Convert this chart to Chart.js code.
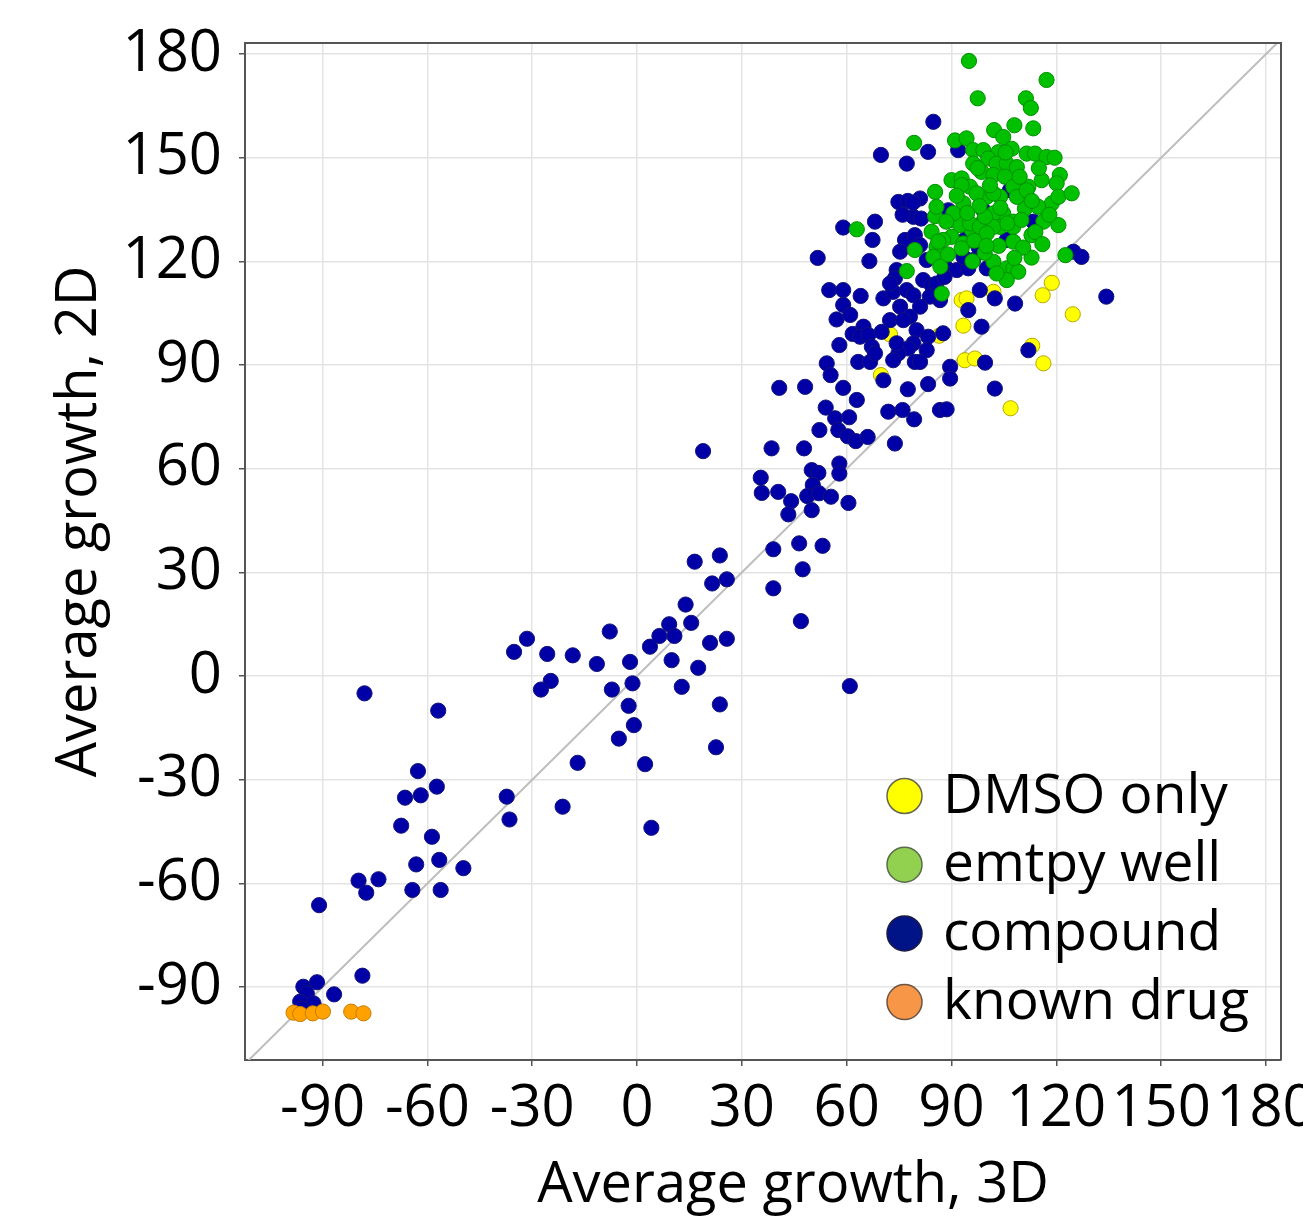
<!DOCTYPE html>
<html>
<head>
<meta charset="utf-8">
<script src="https://cdn.jsdelivr.net/npm/chart.js@4.4.1/dist/chart.umd.min.js"></script>
<style>
html,body{margin:0;padding:0;background:#ffffff;}
#wrap{width:1303px;height:1222px;position:relative;}
</style>
</head>
<body>
<div id="wrap"><canvas id="c" width="1303" height="1222"></canvas></div>
<script>
// ---------- data ----------
const tickValues = [-90, -60, -30, 0, 30, 60, 90, 120, 150, 180];
const seriesNames = ['DMSO only', 'emtpy well', 'compound', 'known drug'];
const xTitle = 'Average growth, 3D';
const yTitle = 'Average growth, 2D';

const dmsoX = [72.4, 69.8, 86.5, 92.9, 94.3, 93.4, 93.8, 96.7, 102.0, 118.7, 116.1, 124.7, 113.1, 116.3, 106.9];
const dmsoY = [98.9, 87.1, 98.5, 108.8, 109.3, 101.4, 91.4, 91.9, 111.2, 113.8, 110.2, 104.7, 95.6, 90.5, 77.5];

const emptyX = [95.0, 117.2, 97.5, 111.3, 112.7, 79.3, 102.2, 108.0, 113.4, 104.8, 91.0, 94.3, 96.2, 99.1, 103.4, 107.2, 111.5, 113.9, 117.2, 96.2,
  98.6, 100.5, 102.9, 105.8, 108.7, 102.0, 105.3, 90.0, 92.9, 95.3, 121.0, 120.1, 115.8, 112.0, 107.7, 118.7, 111.0, 108.7, 103.9, 100.1,
  97.2, 85.3, 104.8, 107.7, 103.9, 98.6, 95.8, 92.4, 90.0, 85.7, 87.6, 93.4, 62.9, 77.2, 87.2, 85.3, 85.7, 84.3, 86.2, 84.8,
  86.8, 79.5, 92.9, 93.4, 95.3, 92.9, 90.5, 102.0, 102.0, 102.0, 107.7, 107.7, 111.5, 114.8, 120.6, 124.4, 116.3, 120.6, 112.9, 112.9,
  102.0, 105.8, 107.7, 109.1, 105.8, 102.9, 122.6, 98.1, 100.1, 99.6,
  98.0, 101.0, 104.0, 106.0, 96.5, 99.5, 103.5, 110.0, 114.0, 110.5, 116.0, 118.0, 88.5, 91.5, 94.5, 97.5, 105.5, 109.5, 115.0, 119.5,
  89.0, 96.0, 100.0, 108.0, 113.0];
const emptyY = [178.0, 172.5, 167.2, 167.2, 164.4, 154.3, 158.0, 159.4, 158.5, 156.0, 155.0, 155.6, 152.2, 152.2, 151.6, 152.6, 151.2, 151.2, 150.2, 148.3,
  145.9, 149.8, 148.3, 148.3, 147.3, 145.0, 144.5, 143.5, 144.0, 141.6, 145.0, 142.6, 143.5, 141.6, 141.6, 136.8, 135.3, 138.7, 138.7, 138.7,
  139.7, 133.1, 133.9, 131.5, 130.0, 131.0, 129.1, 130.5, 127.1, 124.2, 126.2, 125.2, 129.3, 117.2, 110.7, 140.1, 135.8, 128.6, 125.7, 121.3,
  118.5, 123.3, 142.1, 136.8, 131.0, 123.8, 133.9, 139.7, 133.9, 130.0, 130.0, 125.7, 140.6, 135.8, 138.7, 139.7, 131.5, 130.5, 127.6, 121.1,
  119.9, 118.0, 118.0, 117.0, 114.6, 116.5, 121.8, 130.0, 128.1, 132.9,
  136.0, 142.0, 135.5, 131.0, 126.0, 122.5, 124.5, 132.0, 128.5, 124.0, 125.0, 133.5, 131.5, 139.0, 134.0, 147.0, 151.5, 144.5, 147.0, 150.0,
  122.0, 120.0, 124.5, 121.0, 137.5];

const compoundX = [
  -78.0, -56.9, -62.7, -57.3, -66.4, -61.9, -67.5, -58.7, -63.2, -56.6, -49.7, -64.3, -56.2, -79.7, -74.0, -77.5, -91.0, -78.6, -86.7, -95.5,
  -91.6, -94.5, -96.4, -92.6, -95.9,
  -35.2, -31.5, -25.7, -18.4, -24.7, -27.5, -11.5, -7.8, -2.0, -7.2, -1.3, -2.4, -0.9, -5.2, -17.0, 2.3, -37.3, -36.5, -21.3, 4.1,
  3.7, 6.4, 9.2, 10.7, 9.9, 12.8, 17.5, 15.5, 13.9, 20.9, 25.7, 23.7, 22.6, 16.5, 23.7, 21.5, 25.7, 39.0, 39.0,
  18.9, 60.9, 40.7, 48.1, 54.3, 55.4, 57.9, 59.0, 62.9, 54.0, 56.7, 60.7, 52.2, 57.6, 60.3, 62.6, 66.0, 73.8, 71.9, 76.0,
  79.3, 77.5, 83.3, 70.5, 38.5, 47.8, 35.4, 35.7, 40.4, 44.1, 43.3, 50.0, 51.9, 57.9, 57.9, 50.3, 48.7, 52.1, 55.5, 50.0,
  60.5, 46.4, 53.1, 47.4, 46.9, 86.7,
  51.7, 59.0, 68.1, 67.4, 66.5, 74.8, 77.5, 81.0, 79.1, 81.3, 76.7, 75.3, 79.5, 81.0, 82.9, 74.3, 73.8, 55.0, 59.0, 59.0,
  57.1, 61.0, 61.7, 64.8, 63.8, 66.2, 67.2, 70.0, 63.3, 66.7, 68.1, 70.5, 73.3, 72.4, 75.3, 77.2, 78.1, 79.1, 81.9, 84.3,
  85.7, 86.7, 83.8, 81.0, 72.4, 76.2, 80.0, 79.1, 83.3, 87.6, 82.9, 79.5, 77.6, 74.8, 73.3, 74.3, 81.0, 88.6, 91.5, 94.8,
  89.1, 93.4, 96.2, 100.1, 93.8, 97.7, 99.1, 106.7, 105.8, 113.4, 98.1, 102.4, 94.8, 98.6, 89.6, 89.6, 99.6, 102.4, 88.6, 108.2,
  112.0, 124.9, 127.2, 134.3, 84.8, 69.8, 77.2, 83.3, 91.9, 79.0, 89.1, 76.0, 64.0, 88.0];
const compoundY = [
  -5.0, -10.0, -27.5, -32.0, -35.2, -34.5, -43.3, -46.5, -54.5, -53.2, -55.6, -61.9, -61.9, -59.2, -58.8, -62.7, -66.3, -86.7, -92.1, -89.9,
  -88.6, -91.8, -94.2, -94.7, -96.2,
  7.0, 10.8, 6.4, 6.0, -1.4, -3.9, 3.5, 12.9, 4.1, -3.9, -2.1, -8.6, -14.2, -18.1, -25.1, -25.5, -34.9, -41.5, -37.8, -43.9,
  8.5, 11.6, 15.0, 11.6, 4.6, -3.1, 2.4, 15.4, 20.7, 9.6, 10.8, -8.2, -20.6, 33.1, 34.9, 26.8, 28.0, 36.7, 25.4,
  65.1, -2.9, 83.4, 83.7, 90.5, 87.1, 95.8, 83.4, 79.9, 77.7, 74.6, 74.9, 71.2, 71.2, 69.4, 68.0, 69.2, 67.3, 76.5, 77.0,
  74.3, 83.0, 84.5, 85.6, 65.9, 65.9, 57.4, 53.0, 53.3, 50.6, 46.8, 59.6, 58.8, 61.5, 58.6, 55.3, 52.1, 52.9, 51.9, 48.0,
  50.1, 38.4, 37.7, 30.9, 15.9, 77.0,
  121.0, 129.8, 131.5, 126.2, 120.1, 137.2, 137.5, 138.2, 132.9, 132.4, 126.2, 122.8, 127.6, 124.7, 120.4, 117.5, 115.1, 111.7, 111.7, 107.4,
  103.2, 104.5, 99.0, 101.1, 98.2, 98.7, 95.3, 99.6, 90.9, 90.9, 93.4, 109.3, 111.2, 113.6, 106.9, 111.7, 104.0, 110.2, 114.6, 113.1,
  113.6, 108.8, 109.8, 106.9, 103.0, 103.0, 100.1, 96.3, 98.2, 99.2, 94.3, 90.9, 94.8, 93.4, 91.4, 96.3, 90.9, 118.0, 117.5, 118.0,
  134.8, 121.3, 120.4, 118.0, 126.2, 124.2, 134.8, 140.6, 126.2, 131.5, 111.7, 109.3, 105.9, 101.1, 89.5, 86.1, 90.7, 83.2, 77.2, 107.8,
  94.3, 122.8, 121.3, 109.8, 160.4, 150.8, 148.3, 151.7, 152.2, 137.0, 131.9, 133.5, 110.0, 115.5];

const drugX = [-98.3, -96.4, -92.8, -89.9, -81.8, -78.3];
const drugY = [-97.4, -97.8, -97.6, -97.1, -97.1, -97.6];

const diagonalEnds = [-115, 190];

// ---------- helpers ----------
function pts(xs, ys) { return xs.map((x, i) => ({ x: x, y: ys[i] })); }

const FONT = "'Open Sans', 'DejaVu Sans', sans-serif";

const legendColors = [
  { fill: '#FFFF00', stroke: '#66664d' },
  { fill: '#92D050', stroke: '#5a6b4d' },
  { fill: '#001488', stroke: '#1c1c40' },
  { fill: '#F79646', stroke: '#6b5544' }
];

function shiftTitle(scale, dx, dy) {
  if (scale._titleShifted) return;
  const orig = Object.getPrototypeOf(scale).drawTitle;
  scale.drawTitle = function () {
    this.ctx.save();
    this.ctx.translate(dx, dy);
    orig.call(this);
    this.ctx.restore();
  };
  scale._titleShifted = true;
}

const frameAndLegend = {
  id: 'frameAndLegend',
  afterLayout(chart) {
    shiftTitle(chart.scales.y, 0, -30);
    shiftTitle(chart.scales.x, 30, 0);
  },
  afterDraw(chart) {
    const { ctx, chartArea: a } = chart;
    ctx.save();
    ctx.strokeStyle = '#555555';
    ctx.lineWidth = 2;
    ctx.beginPath();
    ctx.moveTo(a.left, a.top);
    ctx.lineTo(a.right, a.top);
    ctx.lineTo(a.right, a.bottom);
    ctx.stroke();
    // legend
    const cx = 904.5, r = 17.5, tx = 943;
    ctx.font = '55px ' + FONT;
    ctx.textBaseline = 'middle';
    ctx.textAlign = 'left';
    seriesNames.forEach((name, i) => {
      const cy = 796 + i * 68.7;
      ctx.beginPath();
      ctx.arc(cx, cy, r, 0, Math.PI * 2);
      ctx.fillStyle = legendColors[i].fill;
      ctx.fill();
      ctx.lineWidth = 1.5;
      ctx.strokeStyle = legendColors[i].stroke;
      ctx.stroke();
      ctx.fillStyle = '#000000';
      ctx.fillText(name, tx, cy + 1);
    });
    ctx.restore();
  }
};

const ptStyle = (fill, border) => ({
  backgroundColor: fill,
  borderColor: border,
  borderWidth: 1,
  pointRadius: 7.6,
  pointHoverRadius: 7.6
});

new Chart(document.getElementById('c'), {
  type: 'scatter',
  data: {
    datasets: [
      Object.assign({ label: seriesNames[3], data: pts(drugX, drugY) }, ptStyle('#FFA200', '#C77A00')),
      Object.assign({ label: seriesNames[1], data: pts(emptyX, emptyY) }, ptStyle('#00C000', '#008F00')),
      Object.assign({ label: seriesNames[2], data: pts(compoundX, compoundY) }, ptStyle('#0000A6', '#14147a')),
      Object.assign({ label: seriesNames[0], data: pts(dmsoX, dmsoY) }, ptStyle('#FFFF00', '#B5A800')),
      {
        label: 'y = x',
        type: 'line',
        data: diagonalEnds.map(v => ({ x: v, y: v })),
        borderColor: '#BDBDBD',
        borderWidth: 2,
        pointRadius: 0,
        showLine: true,
        fill: false
      }
    ]
  },
  plugins: [frameAndLegend],
  options: {
    responsive: false,
    animation: false,
    events: [],
    layout: { padding: { top: 43, right: 22, bottom: 0, left: 0 } },
    plugins: { legend: { display: false }, tooltip: { enabled: false } },
    scales: {
      x: {
        type: 'linear',
        min: -112.2,
        max: 184.3,
        afterBuildTicks: s => { s.ticks = tickValues.map(v => ({ value: v })); },
        afterFit: s => { s.paddingLeft = 0; s.paddingRight = 0; s.height = 162; },
        ticks: {
          autoSkip: false, maxRotation: 0, minRotation: 0,
          color: '#000000', padding: 9,
          font: { family: FONT, size: 58 }
        },
        grid: { color: '#E4E4E4', lineWidth: 1.5, tickLength: 6, tickColor: '#555555', tickWidth: 1.5 },
        border: { color: '#555555', width: 2 },
        title: { display: true, text: xTitle, color: '#000000', font: { family: FONT, size: 56 }, padding: { top: 0, bottom: 2 } }
      },
      y: {
        type: 'linear',
        min: -111.1,
        max: 183.2,
        afterBuildTicks: s => { s.ticks = tickValues.map(v => ({ value: v })); },
        afterFit: s => { s.paddingTop = 0; s.paddingBottom = 0; s.width = 245; },
        ticks: {
          autoSkip: false,
          color: '#000000', padding: 17,
          font: { family: FONT, size: 58 }
        },
        grid: { color: '#E4E4E4', lineWidth: 1.5, tickLength: 6, tickColor: '#555555', tickWidth: 1.5 },
        border: { color: '#555555', width: 2 },
        title: { display: true, text: yTitle, color: '#000000', font: { family: FONT, size: 56 }, padding: { top: 46, bottom: 0 } }
      }
    }
  }
});
</script>
</body>
</html>
